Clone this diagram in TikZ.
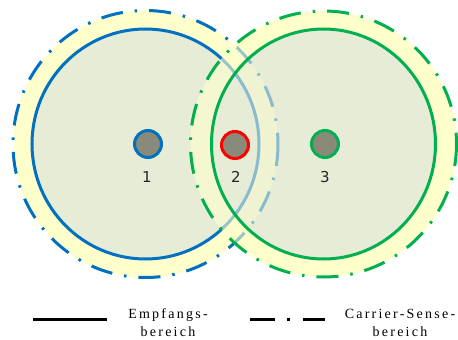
\documentclass[tikz,border=0pt]{standalone}
\usepackage{fontspec}
\newfontfamily\labelfont{DejaVu Sans}
\newfontfamily\legendfont[LetterSpace=16]{Liberation Serif}
\definecolor{bandyellow}{HTML}{FFFFCC}
\definecolor{corefill}{HTML}{E6ECD6}
\definecolor{netblue}{HTML}{0070C0}
\definecolor{netgreen}{HTML}{00B050}
\definecolor{netred}{HTML}{FF0000}
\definecolor{stationgray}{HTML}{8A8A7A}
\definecolor{labelgray}{HTML}{262626}
\begin{document}
\begin{tikzpicture}[x=1pt,y=-1pt,
  rxrange/.style={line width=3pt},
  csrange/.style={line width=3pt, dash pattern=on 22pt off 12pt on 2.5pt off 12pt},
  station/.style={circle, draw, line width=3pt, fill=stationgray, minimum size=27pt, inner sep=0pt},
  stationlabel/.style={font=\labelfont\fontsize{15}{18}\selectfont, text=labelgray},
  legendtext/.style={font=\legendfont\fontsize{14}{18}\selectfont, align=center, text=black}]
\useasboundingbox (0,0) rectangle (458,340);

% range centres and station positions
\coordinate (r1) at (145.5,144);
\coordinate (r3) at (323.5,144);
\coordinate (c1) at (148,144);
\coordinate (c2) at (235,145);
\coordinate (c3) at (325,144);

% station 3 ranges, opaque underlay
\fill[bandyellow] (r3) ellipse [x radius=133, y radius=133];
\fill[corefill] (r3) ellipse [x radius=112, y radius=115];

% station 1: receive and carrier-sense ranges
\fill[bandyellow] (r1) ellipse [x radius=132.5, y radius=133.5];
\fill[corefill] (r1) ellipse [x radius=113.5, y radius=115];
\draw[netblue, rxrange] (r1) ellipse [x radius=113.5, y radius=115];
\draw[netblue, csrange] (r1) ellipse [x radius=132.5, y radius=133.5];

% station 3 ranges laid semi-transparently over station 1
\begin{scope}
  \clip (r1) ellipse [x radius=135, y radius=136];
  \fill[bandyellow, fill opacity=0.6, even odd rule] (r3) ellipse [x radius=133, y radius=133] (r3) ellipse [x radius=112, y radius=115];
  \fill[corefill, fill opacity=0.6] (r3) ellipse [x radius=112, y radius=115];
\end{scope}
\draw[netgreen, rxrange] (r3) ellipse [x radius=112, y radius=115];
\draw[netgreen, csrange] (r3) ellipse [x radius=133, y radius=133];

% stations
\node[station, draw=netblue] (s1) at (c1) {};
\node[station, draw=netred] (s2) at (c2) {};
\node[station, draw=netgreen] (s3) at (c3) {};
\node[stationlabel] (l1) at (147,177) {1};
\node[stationlabel] (l2) at (236,177) {2};
\node[stationlabel] (l3) at (325,177) {3};

% legend
\coordinate (rxa) at (33,319);
\coordinate (rxb) at (107,319);
\draw[black, line width=3pt] (rxa) -- (rxb);
\node[legendtext] (rxtext) at (168,323) {Empfangs-\\bereich};

\coordinate (csa) at (250,319);
\coordinate (csb) at (325,319);
\draw[black, line width=3pt, dash pattern=on 25pt off 12pt on 3pt off 13pt] (csa) -- (csb);
\node[legendtext] (cstext) at (400,323) {Carrier-Sense-\\bereich};
\end{tikzpicture}
\end{document}
